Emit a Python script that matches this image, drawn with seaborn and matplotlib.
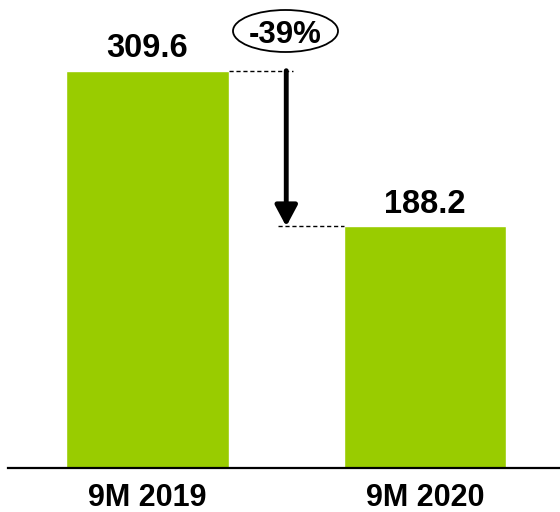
import matplotlib
matplotlib.use("Agg")
import matplotlib.pyplot as plt
import seaborn as sns
import pandas as pd
from matplotlib.patches import Ellipse

categories = ["9M 2019", "9M 2020"]
values = [309.6, 188.2]
value_labels = ["309.6", "188.2"]
change_label = "-39%"

sns.set_theme(style="white")
plt.rcParams['font.family'] = ['Liberation Sans', 'DejaVu Sans']

W, H = 560, 512
fig = plt.figure(figsize=(W / 100, H / 100), dpi=100)
base_px = 44  # baseline from bottom
left_px = 8
ax = fig.add_axes([left_px / W, base_px / H, 1 - left_px / W, 1 - base_px / H])

df = pd.DataFrame({"cat": categories, "val": values})
bar_w = 0.587
sns.barplot(data=df, x="cat", y="val", color="#99CC00", saturation=1, width=bar_w, ax=ax)

px_per_unit = 397.3 / 309.6
ax.set_ylim(0, (H - base_px) / px_per_unit)
step = 277.5
ax.set_xlim((left_px - 147.5) / step, (W - 147.5) / step)

for s in ["top", "right", "left"]:
    ax.spines[s].set_visible(False)
ax.spines["bottom"].set_color("black")
ax.spines["bottom"].set_linewidth(1.6)
ax.set_yticks([])
ax.set_xlabel("")
ax.set_ylabel("")
ax.tick_params(axis="x", length=0, pad=10.5)
for t in ax.get_xticklabels():
    t.set_fontsize(22)
    t.set_fontweight("bold")
    t.set_color("black")

off = 22 / px_per_unit
for i, (v, lab) in enumerate(zip(values, value_labels)):
    ax.text(i, v + off, lab, ha="center", va="center", fontsize=23.5, fontweight="bold", color="black")

half = bar_w / 2
ax.plot([half, 0.524], [values[0], values[0]], ls=(0, (3, 2)), color="black", lw=1)
ax.plot([0.470, 1 - half], [values[1], values[1]], ls=(0, (3, 2)), color="black", lw=1)

ax.annotate("", xy=(0.5, values[1]), xytext=(0.5, values[0]),
            arrowprops=dict(arrowstyle="-|>,head_length=0.45,head_width=0.24", mutation_scale=28,
                            lw=3.5, color="black", shrinkA=0, shrinkB=0))

ecx, ecy = (285.5 - 147.5) / step, (H - base_px - 31) / px_per_unit
ax.add_patch(Ellipse((ecx, ecy), 105 / step, 42 / px_per_unit, facecolor="white", edgecolor="black", lw=1.3, clip_on=False))
ax.text(ecx, ecy - 4 / px_per_unit, change_label, ha="center", va="center", fontsize=22.5, fontweight="bold", color="black")

fig.savefig("out.png", dpi=100)
